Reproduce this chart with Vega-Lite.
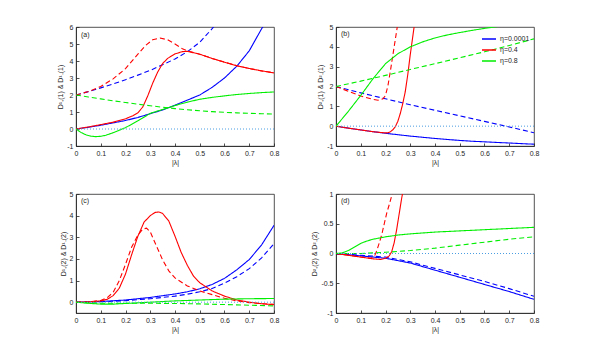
{
  "$schema": "https://vega.github.io/schema/vega-lite/v6.json",
  "background": "white",
  "padding": {"left": 56, "top": 22, "right": 5, "bottom": 5},
  "datasets": {
    "curves": [
      {"p":"a","eta":"η=0.0001","s":"solid","x":0,"y":0},{"p":"a","eta":"η=0.0001","s":"solid","x":0.05,"y":0.1},{"p":"a","eta":"η=0.0001","s":"solid","x":0.1,"y":0.22},{"p":"a","eta":"η=0.0001","s":"solid","x":0.15,"y":0.36},{"p":"a","eta":"η=0.0001","s":"solid","x":0.2,"y":0.5},{"p":"a","eta":"η=0.0001","s":"solid","x":0.25,"y":0.68},{"p":"a","eta":"η=0.0001","s":"solid","x":0.3,"y":0.9},{"p":"a","eta":"η=0.0001","s":"solid","x":0.35,"y":1.12},{"p":"a","eta":"η=0.0001","s":"solid","x":0.4,"y":1.4},{"p":"a","eta":"η=0.0001","s":"solid","x":0.45,"y":1.7},{"p":"a","eta":"η=0.0001","s":"solid","x":0.5,"y":2.0},{"p":"a","eta":"η=0.0001","s":"solid","x":0.55,"y":2.45},{"p":"a","eta":"η=0.0001","s":"solid","x":0.6,"y":3.0},{"p":"a","eta":"η=0.0001","s":"solid","x":0.65,"y":3.7},{"p":"a","eta":"η=0.0001","s":"solid","x":0.7,"y":4.6},{"p":"a","eta":"η=0.0001","s":"solid","x":0.75,"y":5.9},{"p":"a","eta":"η=0.0001","s":"solid","x":0.78,"y":6.6},
      {"p":"a","eta":"η=0.0001","s":"dashed","x":0,"y":2.0},{"p":"a","eta":"η=0.0001","s":"dashed","x":0.05,"y":2.2},{"p":"a","eta":"η=0.0001","s":"dashed","x":0.1,"y":2.42},{"p":"a","eta":"η=0.0001","s":"dashed","x":0.15,"y":2.65},{"p":"a","eta":"η=0.0001","s":"dashed","x":0.2,"y":2.9},{"p":"a","eta":"η=0.0001","s":"dashed","x":0.25,"y":3.17},{"p":"a","eta":"η=0.0001","s":"dashed","x":0.3,"y":3.45},{"p":"a","eta":"η=0.0001","s":"dashed","x":0.35,"y":3.78},{"p":"a","eta":"η=0.0001","s":"dashed","x":0.4,"y":4.12},{"p":"a","eta":"η=0.0001","s":"dashed","x":0.45,"y":4.55},{"p":"a","eta":"η=0.0001","s":"dashed","x":0.5,"y":5.1},{"p":"a","eta":"η=0.0001","s":"dashed","x":0.55,"y":5.9},{"p":"a","eta":"η=0.0001","s":"dashed","x":0.6,"y":6.8},
      {"p":"a","eta":"η=0.4","s":"solid","x":0,"y":0},{"p":"a","eta":"η=0.4","s":"solid","x":0.05,"y":0.12},{"p":"a","eta":"η=0.4","s":"solid","x":0.1,"y":0.26},{"p":"a","eta":"η=0.4","s":"solid","x":0.15,"y":0.4},{"p":"a","eta":"η=0.4","s":"solid","x":0.2,"y":0.6},{"p":"a","eta":"η=0.4","s":"solid","x":0.23,"y":0.78},{"p":"a","eta":"η=0.4","s":"solid","x":0.25,"y":0.95},{"p":"a","eta":"η=0.4","s":"solid","x":0.27,"y":1.3},{"p":"a","eta":"η=0.4","s":"solid","x":0.29,"y":1.95},{"p":"a","eta":"η=0.4","s":"solid","x":0.31,"y":2.7},{"p":"a","eta":"η=0.4","s":"solid","x":0.33,"y":3.35},{"p":"a","eta":"η=0.4","s":"solid","x":0.35,"y":3.85},{"p":"a","eta":"η=0.4","s":"solid","x":0.37,"y":4.15},{"p":"a","eta":"η=0.4","s":"solid","x":0.4,"y":4.42},{"p":"a","eta":"η=0.4","s":"solid","x":0.43,"y":4.55},{"p":"a","eta":"η=0.4","s":"solid","x":0.45,"y":4.57},{"p":"a","eta":"η=0.4","s":"solid","x":0.5,"y":4.4},{"p":"a","eta":"η=0.4","s":"solid","x":0.55,"y":4.15},{"p":"a","eta":"η=0.4","s":"solid","x":0.6,"y":3.93},{"p":"a","eta":"η=0.4","s":"solid","x":0.65,"y":3.72},{"p":"a","eta":"η=0.4","s":"solid","x":0.7,"y":3.56},{"p":"a","eta":"η=0.4","s":"solid","x":0.75,"y":3.42},{"p":"a","eta":"η=0.4","s":"solid","x":0.8,"y":3.3},
      {"p":"a","eta":"η=0.4","s":"dashed","x":0,"y":2.0},{"p":"a","eta":"η=0.4","s":"dashed","x":0.05,"y":2.2},{"p":"a","eta":"η=0.4","s":"dashed","x":0.1,"y":2.5},{"p":"a","eta":"η=0.4","s":"dashed","x":0.15,"y":2.95},{"p":"a","eta":"η=0.4","s":"dashed","x":0.2,"y":3.55},{"p":"a","eta":"η=0.4","s":"dashed","x":0.25,"y":4.4},{"p":"a","eta":"η=0.4","s":"dashed","x":0.28,"y":4.9},{"p":"a","eta":"η=0.4","s":"dashed","x":0.31,"y":5.25},{"p":"a","eta":"η=0.4","s":"dashed","x":0.34,"y":5.35},{"p":"a","eta":"η=0.4","s":"dashed","x":0.37,"y":5.25},{"p":"a","eta":"η=0.4","s":"dashed","x":0.4,"y":5.0},{"p":"a","eta":"η=0.4","s":"dashed","x":0.43,"y":4.72},{"p":"a","eta":"η=0.4","s":"dashed","x":0.45,"y":4.6},{"p":"a","eta":"η=0.4","s":"dashed","x":0.5,"y":4.4},{"p":"a","eta":"η=0.4","s":"dashed","x":0.55,"y":4.15},{"p":"a","eta":"η=0.4","s":"dashed","x":0.6,"y":3.93},{"p":"a","eta":"η=0.4","s":"dashed","x":0.65,"y":3.72},{"p":"a","eta":"η=0.4","s":"dashed","x":0.7,"y":3.56},{"p":"a","eta":"η=0.4","s":"dashed","x":0.75,"y":3.42},{"p":"a","eta":"η=0.4","s":"dashed","x":0.8,"y":3.3},
      {"p":"a","eta":"η=0.8","s":"solid","x":0,"y":0},{"p":"a","eta":"η=0.8","s":"solid","x":0.02,"y":-0.2},{"p":"a","eta":"η=0.8","s":"solid","x":0.04,"y":-0.34},{"p":"a","eta":"η=0.8","s":"solid","x":0.06,"y":-0.42},{"p":"a","eta":"η=0.8","s":"solid","x":0.08,"y":-0.45},{"p":"a","eta":"η=0.8","s":"solid","x":0.1,"y":-0.43},{"p":"a","eta":"η=0.8","s":"solid","x":0.12,"y":-0.37},{"p":"a","eta":"η=0.8","s":"solid","x":0.15,"y":-0.22},{"p":"a","eta":"η=0.8","s":"solid","x":0.18,"y":-0.04},{"p":"a","eta":"η=0.8","s":"solid","x":0.2,"y":0.08},{"p":"a","eta":"η=0.8","s":"solid","x":0.25,"y":0.48},{"p":"a","eta":"η=0.8","s":"solid","x":0.3,"y":0.92},{"p":"a","eta":"η=0.8","s":"solid","x":0.35,"y":1.15},{"p":"a","eta":"η=0.8","s":"solid","x":0.4,"y":1.38},{"p":"a","eta":"η=0.8","s":"solid","x":0.45,"y":1.58},{"p":"a","eta":"η=0.8","s":"solid","x":0.5,"y":1.75},{"p":"a","eta":"η=0.8","s":"solid","x":0.55,"y":1.86},{"p":"a","eta":"η=0.8","s":"solid","x":0.6,"y":1.95},{"p":"a","eta":"η=0.8","s":"solid","x":0.65,"y":2.03},{"p":"a","eta":"η=0.8","s":"solid","x":0.7,"y":2.09},{"p":"a","eta":"η=0.8","s":"solid","x":0.75,"y":2.14},{"p":"a","eta":"η=0.8","s":"solid","x":0.8,"y":2.18},
      {"p":"a","eta":"η=0.8","s":"dashed","x":0,"y":2.0},{"p":"a","eta":"η=0.8","s":"dashed","x":0.05,"y":1.88},{"p":"a","eta":"η=0.8","s":"dashed","x":0.1,"y":1.77},{"p":"a","eta":"η=0.8","s":"dashed","x":0.15,"y":1.66},{"p":"a","eta":"η=0.8","s":"dashed","x":0.2,"y":1.56},{"p":"a","eta":"η=0.8","s":"dashed","x":0.25,"y":1.46},{"p":"a","eta":"η=0.8","s":"dashed","x":0.3,"y":1.37},{"p":"a","eta":"η=0.8","s":"dashed","x":0.35,"y":1.28},{"p":"a","eta":"η=0.8","s":"dashed","x":0.4,"y":1.2},{"p":"a","eta":"η=0.8","s":"dashed","x":0.45,"y":1.13},{"p":"a","eta":"η=0.8","s":"dashed","x":0.5,"y":1.07},{"p":"a","eta":"η=0.8","s":"dashed","x":0.55,"y":1.02},{"p":"a","eta":"η=0.8","s":"dashed","x":0.6,"y":0.98},{"p":"a","eta":"η=0.8","s":"dashed","x":0.65,"y":0.95},{"p":"a","eta":"η=0.8","s":"dashed","x":0.7,"y":0.92},{"p":"a","eta":"η=0.8","s":"dashed","x":0.75,"y":0.9},{"p":"a","eta":"η=0.8","s":"dashed","x":0.8,"y":0.88},

      {"p":"b","eta":"η=0.0001","s":"solid","x":0,"y":0},{"p":"b","eta":"η=0.0001","s":"solid","x":0.05,"y":-0.1},{"p":"b","eta":"η=0.0001","s":"solid","x":0.1,"y":-0.19},{"p":"b","eta":"η=0.0001","s":"solid","x":0.15,"y":-0.28},{"p":"b","eta":"η=0.0001","s":"solid","x":0.2,"y":-0.36},{"p":"b","eta":"η=0.0001","s":"solid","x":0.25,"y":-0.43},{"p":"b","eta":"η=0.0001","s":"solid","x":0.3,"y":-0.5},{"p":"b","eta":"η=0.0001","s":"solid","x":0.35,"y":-0.56},{"p":"b","eta":"η=0.0001","s":"solid","x":0.4,"y":-0.62},{"p":"b","eta":"η=0.0001","s":"solid","x":0.45,"y":-0.67},{"p":"b","eta":"η=0.0001","s":"solid","x":0.5,"y":-0.72},{"p":"b","eta":"η=0.0001","s":"solid","x":0.55,"y":-0.76},{"p":"b","eta":"η=0.0001","s":"solid","x":0.6,"y":-0.79},{"p":"b","eta":"η=0.0001","s":"solid","x":0.65,"y":-0.82},{"p":"b","eta":"η=0.0001","s":"solid","x":0.7,"y":-0.85},{"p":"b","eta":"η=0.0001","s":"solid","x":0.75,"y":-0.88},{"p":"b","eta":"η=0.0001","s":"solid","x":0.8,"y":-0.91},
      {"p":"b","eta":"η=0.0001","s":"dashed","x":0,"y":2.0},{"p":"b","eta":"η=0.0001","s":"dashed","x":0.1,"y":1.68},{"p":"b","eta":"η=0.0001","s":"dashed","x":0.2,"y":1.38},{"p":"b","eta":"η=0.0001","s":"dashed","x":0.3,"y":1.08},{"p":"b","eta":"η=0.0001","s":"dashed","x":0.4,"y":0.8},{"p":"b","eta":"η=0.0001","s":"dashed","x":0.5,"y":0.52},{"p":"b","eta":"η=0.0001","s":"dashed","x":0.6,"y":0.24},{"p":"b","eta":"η=0.0001","s":"dashed","x":0.7,"y":-0.04},{"p":"b","eta":"η=0.0001","s":"dashed","x":0.8,"y":-0.33},
      {"p":"b","eta":"η=0.4","s":"solid","x":0,"y":0},{"p":"b","eta":"η=0.4","s":"solid","x":0.05,"y":-0.1},{"p":"b","eta":"η=0.4","s":"solid","x":0.1,"y":-0.19},{"p":"b","eta":"η=0.4","s":"solid","x":0.15,"y":-0.28},{"p":"b","eta":"η=0.4","s":"solid","x":0.2,"y":-0.34},{"p":"b","eta":"η=0.4","s":"solid","x":0.21,"y":-0.33},{"p":"b","eta":"η=0.4","s":"solid","x":0.22,"y":-0.28},{"p":"b","eta":"η=0.4","s":"solid","x":0.23,"y":-0.18},{"p":"b","eta":"η=0.4","s":"solid","x":0.24,"y":-0.02},{"p":"b","eta":"η=0.4","s":"solid","x":0.25,"y":0.25},{"p":"b","eta":"η=0.4","s":"solid","x":0.26,"y":0.65},{"p":"b","eta":"η=0.4","s":"solid","x":0.27,"y":1.15},{"p":"b","eta":"η=0.4","s":"solid","x":0.28,"y":1.75},{"p":"b","eta":"η=0.4","s":"solid","x":0.29,"y":2.6},{"p":"b","eta":"η=0.4","s":"solid","x":0.3,"y":3.6},{"p":"b","eta":"η=0.4","s":"solid","x":0.31,"y":4.5},{"p":"b","eta":"η=0.4","s":"solid","x":0.32,"y":5.4},
      {"p":"b","eta":"η=0.4","s":"dashed","x":0,"y":2.0},{"p":"b","eta":"η=0.4","s":"dashed","x":0.05,"y":1.76},{"p":"b","eta":"η=0.4","s":"dashed","x":0.1,"y":1.52},{"p":"b","eta":"η=0.4","s":"dashed","x":0.15,"y":1.35},{"p":"b","eta":"η=0.4","s":"dashed","x":0.17,"y":1.31},{"p":"b","eta":"η=0.4","s":"dashed","x":0.19,"y":1.38},{"p":"b","eta":"η=0.4","s":"dashed","x":0.2,"y":1.55},{"p":"b","eta":"η=0.4","s":"dashed","x":0.21,"y":2.05},{"p":"b","eta":"η=0.4","s":"dashed","x":0.22,"y":2.8},{"p":"b","eta":"η=0.4","s":"dashed","x":0.23,"y":3.6},{"p":"b","eta":"η=0.4","s":"dashed","x":0.24,"y":4.4},{"p":"b","eta":"η=0.4","s":"dashed","x":0.25,"y":5.2},{"p":"b","eta":"η=0.4","s":"dashed","x":0.26,"y":6.0},
      {"p":"b","eta":"η=0.8","s":"solid","x":0,"y":0},{"p":"b","eta":"η=0.8","s":"solid","x":0.05,"y":0.75},{"p":"b","eta":"η=0.8","s":"solid","x":0.1,"y":1.55},{"p":"b","eta":"η=0.8","s":"solid","x":0.15,"y":2.4},{"p":"b","eta":"η=0.8","s":"solid","x":0.2,"y":3.15},{"p":"b","eta":"η=0.8","s":"solid","x":0.25,"y":3.65},{"p":"b","eta":"η=0.8","s":"solid","x":0.3,"y":4.0},{"p":"b","eta":"η=0.8","s":"solid","x":0.35,"y":4.25},{"p":"b","eta":"η=0.8","s":"solid","x":0.4,"y":4.45},{"p":"b","eta":"η=0.8","s":"solid","x":0.45,"y":4.6},{"p":"b","eta":"η=0.8","s":"solid","x":0.5,"y":4.72},{"p":"b","eta":"η=0.8","s":"solid","x":0.55,"y":4.83},{"p":"b","eta":"η=0.8","s":"solid","x":0.6,"y":4.93},{"p":"b","eta":"η=0.8","s":"solid","x":0.65,"y":5.02},{"p":"b","eta":"η=0.8","s":"solid","x":0.7,"y":5.1},
      {"p":"b","eta":"η=0.8","s":"dashed","x":0,"y":2.0},{"p":"b","eta":"η=0.8","s":"dashed","x":0.1,"y":2.27},{"p":"b","eta":"η=0.8","s":"dashed","x":0.2,"y":2.56},{"p":"b","eta":"η=0.8","s":"dashed","x":0.3,"y":2.86},{"p":"b","eta":"η=0.8","s":"dashed","x":0.4,"y":3.15},{"p":"b","eta":"η=0.8","s":"dashed","x":0.5,"y":3.45},{"p":"b","eta":"η=0.8","s":"dashed","x":0.6,"y":3.75},{"p":"b","eta":"η=0.8","s":"dashed","x":0.7,"y":4.07},{"p":"b","eta":"η=0.8","s":"dashed","x":0.8,"y":4.4},

      {"p":"c","eta":"η=0.0001","s":"solid","x":0,"y":0},{"p":"c","eta":"η=0.0001","s":"solid","x":0.1,"y":0.03},{"p":"c","eta":"η=0.0001","s":"solid","x":0.2,"y":0.1},{"p":"c","eta":"η=0.0001","s":"solid","x":0.3,"y":0.22},{"p":"c","eta":"η=0.0001","s":"solid","x":0.4,"y":0.38},{"p":"c","eta":"η=0.0001","s":"solid","x":0.45,"y":0.48},{"p":"c","eta":"η=0.0001","s":"solid","x":0.5,"y":0.62},{"p":"c","eta":"η=0.0001","s":"solid","x":0.55,"y":0.82},{"p":"c","eta":"η=0.0001","s":"solid","x":0.6,"y":1.1},{"p":"c","eta":"η=0.0001","s":"solid","x":0.65,"y":1.5},{"p":"c","eta":"η=0.0001","s":"solid","x":0.7,"y":1.97},{"p":"c","eta":"η=0.0001","s":"solid","x":0.75,"y":2.65},{"p":"c","eta":"η=0.0001","s":"solid","x":0.8,"y":3.55},
      {"p":"c","eta":"η=0.0001","s":"dashed","x":0,"y":0},{"p":"c","eta":"η=0.0001","s":"dashed","x":0.1,"y":0.02},{"p":"c","eta":"η=0.0001","s":"dashed","x":0.2,"y":0.07},{"p":"c","eta":"η=0.0001","s":"dashed","x":0.3,"y":0.16},{"p":"c","eta":"η=0.0001","s":"dashed","x":0.4,"y":0.28},{"p":"c","eta":"η=0.0001","s":"dashed","x":0.45,"y":0.37},{"p":"c","eta":"η=0.0001","s":"dashed","x":0.5,"y":0.48},{"p":"c","eta":"η=0.0001","s":"dashed","x":0.55,"y":0.63},{"p":"c","eta":"η=0.0001","s":"dashed","x":0.6,"y":0.88},{"p":"c","eta":"η=0.0001","s":"dashed","x":0.65,"y":1.18},{"p":"c","eta":"η=0.0001","s":"dashed","x":0.7,"y":1.55},{"p":"c","eta":"η=0.0001","s":"dashed","x":0.75,"y":2.05},{"p":"c","eta":"η=0.0001","s":"dashed","x":0.8,"y":2.7},
      {"p":"c","eta":"η=0.4","s":"solid","x":0,"y":0},{"p":"c","eta":"η=0.4","s":"solid","x":0.05,"y":0.01},{"p":"c","eta":"η=0.4","s":"solid","x":0.1,"y":0.06},{"p":"c","eta":"η=0.4","s":"solid","x":0.125,"y":0.13},{"p":"c","eta":"η=0.4","s":"solid","x":0.15,"y":0.3},{"p":"c","eta":"η=0.4","s":"solid","x":0.175,"y":0.65},{"p":"c","eta":"η=0.4","s":"solid","x":0.2,"y":1.3},{"p":"c","eta":"η=0.4","s":"solid","x":0.225,"y":2.2},{"p":"c","eta":"η=0.4","s":"solid","x":0.25,"y":3.05},{"p":"c","eta":"η=0.4","s":"solid","x":0.275,"y":3.7},{"p":"c","eta":"η=0.4","s":"solid","x":0.3,"y":4.0},{"p":"c","eta":"η=0.4","s":"solid","x":0.32,"y":4.15},{"p":"c","eta":"η=0.4","s":"solid","x":0.335,"y":4.17},{"p":"c","eta":"η=0.4","s":"solid","x":0.35,"y":4.1},{"p":"c","eta":"η=0.4","s":"solid","x":0.375,"y":3.75},{"p":"c","eta":"η=0.4","s":"solid","x":0.4,"y":3.05},{"p":"c","eta":"η=0.4","s":"solid","x":0.425,"y":2.3},{"p":"c","eta":"η=0.4","s":"solid","x":0.45,"y":1.7},{"p":"c","eta":"η=0.4","s":"solid","x":0.475,"y":1.2},{"p":"c","eta":"η=0.4","s":"solid","x":0.5,"y":0.9},{"p":"c","eta":"η=0.4","s":"solid","x":0.55,"y":0.52},{"p":"c","eta":"η=0.4","s":"solid","x":0.6,"y":0.28},{"p":"c","eta":"η=0.4","s":"solid","x":0.65,"y":0.1},{"p":"c","eta":"η=0.4","s":"solid","x":0.7,"y":0.0},{"p":"c","eta":"η=0.4","s":"solid","x":0.75,"y":-0.07},{"p":"c","eta":"η=0.4","s":"solid","x":0.8,"y":-0.12},
      {"p":"c","eta":"η=0.4","s":"dashed","x":0,"y":0},{"p":"c","eta":"η=0.4","s":"dashed","x":0.05,"y":0.01},{"p":"c","eta":"η=0.4","s":"dashed","x":0.1,"y":0.08},{"p":"c","eta":"η=0.4","s":"dashed","x":0.125,"y":0.2},{"p":"c","eta":"η=0.4","s":"dashed","x":0.15,"y":0.45},{"p":"c","eta":"η=0.4","s":"dashed","x":0.175,"y":1.0},{"p":"c","eta":"η=0.4","s":"dashed","x":0.2,"y":1.75},{"p":"c","eta":"η=0.4","s":"dashed","x":0.225,"y":2.55},{"p":"c","eta":"η=0.4","s":"dashed","x":0.25,"y":3.1},{"p":"c","eta":"η=0.4","s":"dashed","x":0.27,"y":3.38},{"p":"c","eta":"η=0.4","s":"dashed","x":0.285,"y":3.42},{"p":"c","eta":"η=0.4","s":"dashed","x":0.3,"y":3.25},{"p":"c","eta":"η=0.4","s":"dashed","x":0.325,"y":2.6},{"p":"c","eta":"η=0.4","s":"dashed","x":0.35,"y":1.95},{"p":"c","eta":"η=0.4","s":"dashed","x":0.375,"y":1.45},{"p":"c","eta":"η=0.4","s":"dashed","x":0.4,"y":1.12},{"p":"c","eta":"η=0.4","s":"dashed","x":0.45,"y":0.75},{"p":"c","eta":"η=0.4","s":"dashed","x":0.5,"y":0.52},{"p":"c","eta":"η=0.4","s":"dashed","x":0.55,"y":0.35},{"p":"c","eta":"η=0.4","s":"dashed","x":0.6,"y":0.18},{"p":"c","eta":"η=0.4","s":"dashed","x":0.65,"y":0.06},{"p":"c","eta":"η=0.4","s":"dashed","x":0.7,"y":-0.02},{"p":"c","eta":"η=0.4","s":"dashed","x":0.75,"y":-0.07},{"p":"c","eta":"η=0.4","s":"dashed","x":0.8,"y":-0.1},
      {"p":"c","eta":"η=0.8","s":"solid","x":0,"y":0},{"p":"c","eta":"η=0.8","s":"solid","x":0.05,"y":-0.05},{"p":"c","eta":"η=0.8","s":"solid","x":0.1,"y":-0.09},{"p":"c","eta":"η=0.8","s":"solid","x":0.15,"y":-0.09},{"p":"c","eta":"η=0.8","s":"solid","x":0.2,"y":-0.06},{"p":"c","eta":"η=0.8","s":"solid","x":0.3,"y":0.0},{"p":"c","eta":"η=0.8","s":"solid","x":0.4,"y":0.06},{"p":"c","eta":"η=0.8","s":"solid","x":0.5,"y":0.1},{"p":"c","eta":"η=0.8","s":"solid","x":0.6,"y":0.14},{"p":"c","eta":"η=0.8","s":"solid","x":0.7,"y":0.16},{"p":"c","eta":"η=0.8","s":"solid","x":0.8,"y":0.17},
      {"p":"c","eta":"η=0.8","s":"dashed","x":0,"y":0},{"p":"c","eta":"η=0.8","s":"dashed","x":0.05,"y":-0.03},{"p":"c","eta":"η=0.8","s":"dashed","x":0.1,"y":-0.05},{"p":"c","eta":"η=0.8","s":"dashed","x":0.2,"y":-0.05},{"p":"c","eta":"η=0.8","s":"dashed","x":0.3,"y":-0.05},{"p":"c","eta":"η=0.8","s":"dashed","x":0.4,"y":-0.06},{"p":"c","eta":"η=0.8","s":"dashed","x":0.5,"y":-0.08},{"p":"c","eta":"η=0.8","s":"dashed","x":0.6,"y":-0.11},{"p":"c","eta":"η=0.8","s":"dashed","x":0.7,"y":-0.14},{"p":"c","eta":"η=0.8","s":"dashed","x":0.8,"y":-0.17},

      {"p":"d","eta":"η=0.0001","s":"solid","x":0,"y":0},{"p":"d","eta":"η=0.0001","s":"solid","x":0.1,"y":-0.04},{"p":"d","eta":"η=0.0001","s":"solid","x":0.15,"y":-0.06},{"p":"d","eta":"η=0.0001","s":"solid","x":0.2,"y":-0.08},{"p":"d","eta":"η=0.0001","s":"solid","x":0.3,"y":-0.16},{"p":"d","eta":"η=0.0001","s":"solid","x":0.4,"y":-0.28},{"p":"d","eta":"η=0.0001","s":"solid","x":0.5,"y":-0.4},{"p":"d","eta":"η=0.0001","s":"solid","x":0.6,"y":-0.52},{"p":"d","eta":"η=0.0001","s":"solid","x":0.7,"y":-0.64},{"p":"d","eta":"η=0.0001","s":"solid","x":0.8,"y":-0.77},
      {"p":"d","eta":"η=0.0001","s":"dashed","x":0,"y":0},{"p":"d","eta":"η=0.0001","s":"dashed","x":0.1,"y":-0.03},{"p":"d","eta":"η=0.0001","s":"dashed","x":0.2,"y":-0.06},{"p":"d","eta":"η=0.0001","s":"dashed","x":0.3,"y":-0.14},{"p":"d","eta":"η=0.0001","s":"dashed","x":0.4,"y":-0.25},{"p":"d","eta":"η=0.0001","s":"dashed","x":0.5,"y":-0.36},{"p":"d","eta":"η=0.0001","s":"dashed","x":0.6,"y":-0.47},{"p":"d","eta":"η=0.0001","s":"dashed","x":0.7,"y":-0.59},{"p":"d","eta":"η=0.0001","s":"dashed","x":0.8,"y":-0.72},
      {"p":"d","eta":"η=0.4","s":"solid","x":0,"y":0},{"p":"d","eta":"η=0.4","s":"solid","x":0.05,"y":-0.03},{"p":"d","eta":"η=0.4","s":"solid","x":0.1,"y":-0.06},{"p":"d","eta":"η=0.4","s":"solid","x":0.15,"y":-0.09},{"p":"d","eta":"η=0.4","s":"solid","x":0.18,"y":-0.1},{"p":"d","eta":"η=0.4","s":"solid","x":0.2,"y":-0.08},{"p":"d","eta":"η=0.4","s":"solid","x":0.215,"y":-0.04},{"p":"d","eta":"η=0.4","s":"solid","x":0.225,"y":0.03},{"p":"d","eta":"η=0.4","s":"solid","x":0.235,"y":0.18},{"p":"d","eta":"η=0.4","s":"solid","x":0.245,"y":0.4},{"p":"d","eta":"η=0.4","s":"solid","x":0.255,"y":0.66},{"p":"d","eta":"η=0.4","s":"solid","x":0.265,"y":0.92},{"p":"d","eta":"η=0.4","s":"solid","x":0.275,"y":1.15},
      {"p":"d","eta":"η=0.4","s":"dashed","x":0,"y":0},{"p":"d","eta":"η=0.4","s":"dashed","x":0.05,"y":-0.03},{"p":"d","eta":"η=0.4","s":"dashed","x":0.1,"y":-0.06},{"p":"d","eta":"η=0.4","s":"dashed","x":0.14,"y":-0.08},{"p":"d","eta":"η=0.4","s":"dashed","x":0.155,"y":-0.05},{"p":"d","eta":"η=0.4","s":"dashed","x":0.165,"y":0.05},{"p":"d","eta":"η=0.4","s":"dashed","x":0.175,"y":0.18},{"p":"d","eta":"η=0.4","s":"dashed","x":0.185,"y":0.32},{"p":"d","eta":"η=0.4","s":"dashed","x":0.195,"y":0.5},{"p":"d","eta":"η=0.4","s":"dashed","x":0.205,"y":0.68},{"p":"d","eta":"η=0.4","s":"dashed","x":0.215,"y":0.82},{"p":"d","eta":"η=0.4","s":"dashed","x":0.225,"y":0.97},{"p":"d","eta":"η=0.4","s":"dashed","x":0.235,"y":1.12},
      {"p":"d","eta":"η=0.8","s":"solid","x":0,"y":0},{"p":"d","eta":"η=0.8","s":"solid","x":0.025,"y":0.01},{"p":"d","eta":"η=0.8","s":"solid","x":0.05,"y":0.05},{"p":"d","eta":"η=0.8","s":"solid","x":0.075,"y":0.11},{"p":"d","eta":"η=0.8","s":"solid","x":0.1,"y":0.17},{"p":"d","eta":"η=0.8","s":"solid","x":0.125,"y":0.21},{"p":"d","eta":"η=0.8","s":"solid","x":0.15,"y":0.24},{"p":"d","eta":"η=0.8","s":"solid","x":0.2,"y":0.28},{"p":"d","eta":"η=0.8","s":"solid","x":0.25,"y":0.31},{"p":"d","eta":"η=0.8","s":"solid","x":0.3,"y":0.33},{"p":"d","eta":"η=0.8","s":"solid","x":0.4,"y":0.36},{"p":"d","eta":"η=0.8","s":"solid","x":0.5,"y":0.38},{"p":"d","eta":"η=0.8","s":"solid","x":0.6,"y":0.4},{"p":"d","eta":"η=0.8","s":"solid","x":0.7,"y":0.42},{"p":"d","eta":"η=0.8","s":"solid","x":0.8,"y":0.44},
      {"p":"d","eta":"η=0.8","s":"dashed","x":0,"y":0},{"p":"d","eta":"η=0.8","s":"dashed","x":0.1,"y":0.0},{"p":"d","eta":"η=0.8","s":"dashed","x":0.2,"y":0.02},{"p":"d","eta":"η=0.8","s":"dashed","x":0.3,"y":0.05},{"p":"d","eta":"η=0.8","s":"dashed","x":0.4,"y":0.09},{"p":"d","eta":"η=0.8","s":"dashed","x":0.5,"y":0.14},{"p":"d","eta":"η=0.8","s":"dashed","x":0.6,"y":0.19},{"p":"d","eta":"η=0.8","s":"dashed","x":0.7,"y":0.24},{"p":"d","eta":"η=0.8","s":"dashed","x":0.8,"y":0.28}
    ]
  },
  "columns": 2,
  "spacing": {"row": 48, "column": 62},
  "bounds": "flush",
  "resolve": {"scale": {"y": "independent"}, "legend": {"color": "independent", "strokeDash": "independent"}},
  "concat": [
    {
      "width": 198, "height": 119,
      "layer": [
        {"data": {"name": "curves"}, "transform": [{"filter": "datum.p === 'a'"}], "mark": {"type": "line", "clip": true, "strokeWidth": 1.1},
         "encoding": {
           "x": {"field": "x", "type": "quantitative", "scale": {"domain": [0, 0.8], "nice": false}, "axis": {"title": "|λ|", "values": [0,0.1,0.2,0.3,0.4,0.5,0.6,0.7,0.8], "labelOverlap": false}},
           "y": {"field": "y", "type": "quantitative", "scale": {"domain": [-1, 6], "nice": false, "zero": false}, "axis": {"title": "D¹₊(1) & D¹₋(1)", "values": [-1,0,1,2,3,4,5,6], "labelOverlap": false}},
           "color": {"field": "eta", "type": "nominal", "scale": {"domain": ["η=0.0001","η=0.4","η=0.8"], "range": ["#0000ff","#ff0000","#00ee00"]}, "legend": null},
           "strokeDash": {"field": "s", "type": "nominal", "scale": {"domain": ["solid","dashed"], "range": [[1,0],[5,3]]}, "legend": null},
           "detail": {"field": "eta"}
         }},
        {"data": {"values": [{}]}, "mark": {"type": "rule", "color": "#4a9de0", "strokeDash": [1, 2], "strokeWidth": 1}, "encoding": {"y": {"datum": 0, "type": "quantitative", "axis": {"title": "D¹₊(1) & D¹₋(1)", "values": [-1,0,1,2,3,4,5,6], "labelOverlap": false}}}},
        {"data": {"values": [{}]}, "mark": {"type": "text", "text": "(a)", "align": "left", "baseline": "middle", "fontSize": 7, "font": "Liberation Sans", "color": "#262626"}, "encoding": {"x": {"datum": 0.02, "type": "quantitative", "axis": {"title": "|λ|", "values": [0,0.1,0.2,0.3,0.4,0.5,0.6,0.7,0.8], "labelOverlap": false}}, "y": {"datum": 5.55, "type": "quantitative", "axis": {"title": "D¹₊(1) & D¹₋(1)", "values": [-1,0,1,2,3,4,5,6], "labelOverlap": false}}}}
      ]
    },
    {
      "width": 198, "height": 119,
      "layer": [
        {"data": {"name": "curves"}, "transform": [{"filter": "datum.p === 'b'"}], "mark": {"type": "line", "clip": true, "strokeWidth": 1.1},
         "encoding": {
           "x": {"field": "x", "type": "quantitative", "scale": {"domain": [0, 0.8], "nice": false}, "axis": {"title": "|λ|", "values": [0,0.1,0.2,0.3,0.4,0.5,0.6,0.7,0.8], "labelOverlap": false}},
           "y": {"field": "y", "type": "quantitative", "scale": {"domain": [-1, 5], "nice": false, "zero": false}, "axis": {"title": "D²₊(1) & D²₋(1)", "values": [-1,0,1,2,3,4,5], "labelOverlap": false}},
           "color": {"field": "eta", "type": "nominal", "scale": {"domain": ["η=0.0001","η=0.4","η=0.8"], "range": ["#0000ff","#ff0000","#00ee00"]},
             "legend": {"title": null, "orient": "top-right", "offset": 4, "padding": 0, "symbolType": "stroke", "symbolSize": 196, "symbolStrokeWidth": 1.3, "labelFontSize": 7, "labelFont": "Liberation Sans", "labelColor": "#262626", "rowPadding": 0, "labelOffset": 3, "symbolDash": [1,0]}},
           "strokeDash": {"field": "s", "type": "nominal", "scale": {"domain": ["solid","dashed"], "range": [[1,0],[5,3]]}, "legend": null},
           "detail": {"field": "eta"}
         }},
        {"data": {"values": [{}]}, "mark": {"type": "rule", "color": "#4a9de0", "strokeDash": [1, 2], "strokeWidth": 1}, "encoding": {"y": {"datum": 0, "type": "quantitative", "axis": {"title": "D²₊(1) & D²₋(1)", "values": [-1,0,1,2,3,4,5], "labelOverlap": false}}}},
        {"data": {"values": [{}]}, "mark": {"type": "text", "text": "(b)", "align": "left", "baseline": "middle", "fontSize": 7, "font": "Liberation Sans", "color": "#262626"}, "encoding": {"x": {"datum": 0.02, "type": "quantitative", "axis": {"title": "|λ|", "values": [0,0.1,0.2,0.3,0.4,0.5,0.6,0.7,0.8], "labelOverlap": false}}, "y": {"datum": 4.65, "type": "quantitative", "axis": {"title": "D²₊(1) & D²₋(1)", "values": [-1,0,1,2,3,4,5], "labelOverlap": false}}}}
      ]
    },
    {
      "width": 198, "height": 119,
      "layer": [
        {"data": {"name": "curves"}, "transform": [{"filter": "datum.p === 'c'"}], "mark": {"type": "line", "clip": true, "strokeWidth": 1.1},
         "encoding": {
           "x": {"field": "x", "type": "quantitative", "scale": {"domain": [0, 0.8], "nice": false}, "axis": {"title": "|λ|", "values": [0,0.1,0.2,0.3,0.4,0.5,0.6,0.7,0.8], "labelOverlap": false}},
           "y": {"field": "y", "type": "quantitative", "scale": {"domain": [-0.5, 5], "nice": false, "zero": false}, "axis": {"title": "D¹₊(2) & D¹₋(2)", "values": [0,1,2,3,4,5], "labelOverlap": false}},
           "color": {"field": "eta", "type": "nominal", "scale": {"domain": ["η=0.0001","η=0.4","η=0.8"], "range": ["#0000ff","#ff0000","#00ee00"]}, "legend": null},
           "strokeDash": {"field": "s", "type": "nominal", "scale": {"domain": ["solid","dashed"], "range": [[1,0],[5,3]]}, "legend": null},
           "detail": {"field": "eta"}
         }},
        {"data": {"values": [{}]}, "mark": {"type": "rule", "color": "#4a9de0", "strokeDash": [1, 2], "strokeWidth": 1}, "encoding": {"y": {"datum": 0, "type": "quantitative", "axis": {"title": "D¹₊(2) & D¹₋(2)", "values": [0,1,2,3,4,5], "labelOverlap": false}}}},
        {"data": {"values": [{}]}, "mark": {"type": "text", "text": "(c)", "align": "left", "baseline": "middle", "fontSize": 7, "font": "Liberation Sans", "color": "#262626"}, "encoding": {"x": {"datum": 0.02, "type": "quantitative", "axis": {"title": "|λ|", "values": [0,0.1,0.2,0.3,0.4,0.5,0.6,0.7,0.8], "labelOverlap": false}}, "y": {"datum": 4.69, "type": "quantitative", "axis": {"title": "D¹₊(2) & D¹₋(2)", "values": [0,1,2,3,4,5], "labelOverlap": false}}}}
      ]
    },
    {
      "width": 198, "height": 119,
      "layer": [
        {"data": {"name": "curves"}, "transform": [{"filter": "datum.p === 'd'"}], "mark": {"type": "line", "clip": true, "strokeWidth": 1.1},
         "encoding": {
           "x": {"field": "x", "type": "quantitative", "scale": {"domain": [0, 0.8], "nice": false}, "axis": {"title": "|λ|", "values": [0,0.1,0.2,0.3,0.4,0.5,0.6,0.7,0.8], "labelOverlap": false}},
           "y": {"field": "y", "type": "quantitative", "scale": {"domain": [-1, 1], "nice": false, "zero": false}, "axis": {"title": "D²₊(2) & D²₋(2)", "values": [-1,-0.5,0,0.5,1], "labelOverlap": false}},
           "color": {"field": "eta", "type": "nominal", "scale": {"domain": ["η=0.0001","η=0.4","η=0.8"], "range": ["#0000ff","#ff0000","#00ee00"]}, "legend": null},
           "strokeDash": {"field": "s", "type": "nominal", "scale": {"domain": ["solid","dashed"], "range": [[1,0],[5,3]]}, "legend": null},
           "detail": {"field": "eta"}
         }},
        {"data": {"values": [{}]}, "mark": {"type": "rule", "color": "#4a9de0", "strokeDash": [1, 2], "strokeWidth": 1}, "encoding": {"y": {"datum": 0, "type": "quantitative", "axis": {"title": "D²₊(2) & D²₋(2)", "values": [-1,-0.5,0,0.5,1], "labelOverlap": false}}}},
        {"data": {"values": [{}]}, "mark": {"type": "text", "text": "(d)", "align": "left", "baseline": "middle", "fontSize": 7, "font": "Liberation Sans", "color": "#262626"}, "encoding": {"x": {"datum": 0.02, "type": "quantitative", "axis": {"title": "|λ|", "values": [0,0.1,0.2,0.3,0.4,0.5,0.6,0.7,0.8], "labelOverlap": false}}, "y": {"datum": 0.89, "type": "quantitative", "axis": {"title": "D²₊(2) & D²₋(2)", "values": [-1,-0.5,0,0.5,1], "labelOverlap": false}}}}
      ]
    }
  ],
  "config": {
    "view": {"stroke": "#262626", "strokeWidth": 0.8},
    "axis": {
      "labelFont": "Liberation Sans", "titleFont": "Liberation Sans",
      "labelFontSize": 7, "titleFontSize": 7, "titleFontWeight": "normal",
      "labelColor": "#262626", "titleColor": "#262626",
      "tickColor": "#262626", "domainColor": "#262626", "domainWidth": 0.8, "tickWidth": 0.8,
      "tickSize": -3, "labelPadding": 6, "grid": false,
      "labelExpr": "'' + datum.value", "labelFlush": false
    },
    "axisX": {"titlePadding": 2},
    "axisY": {"titlePadding": 3}
  }
}
